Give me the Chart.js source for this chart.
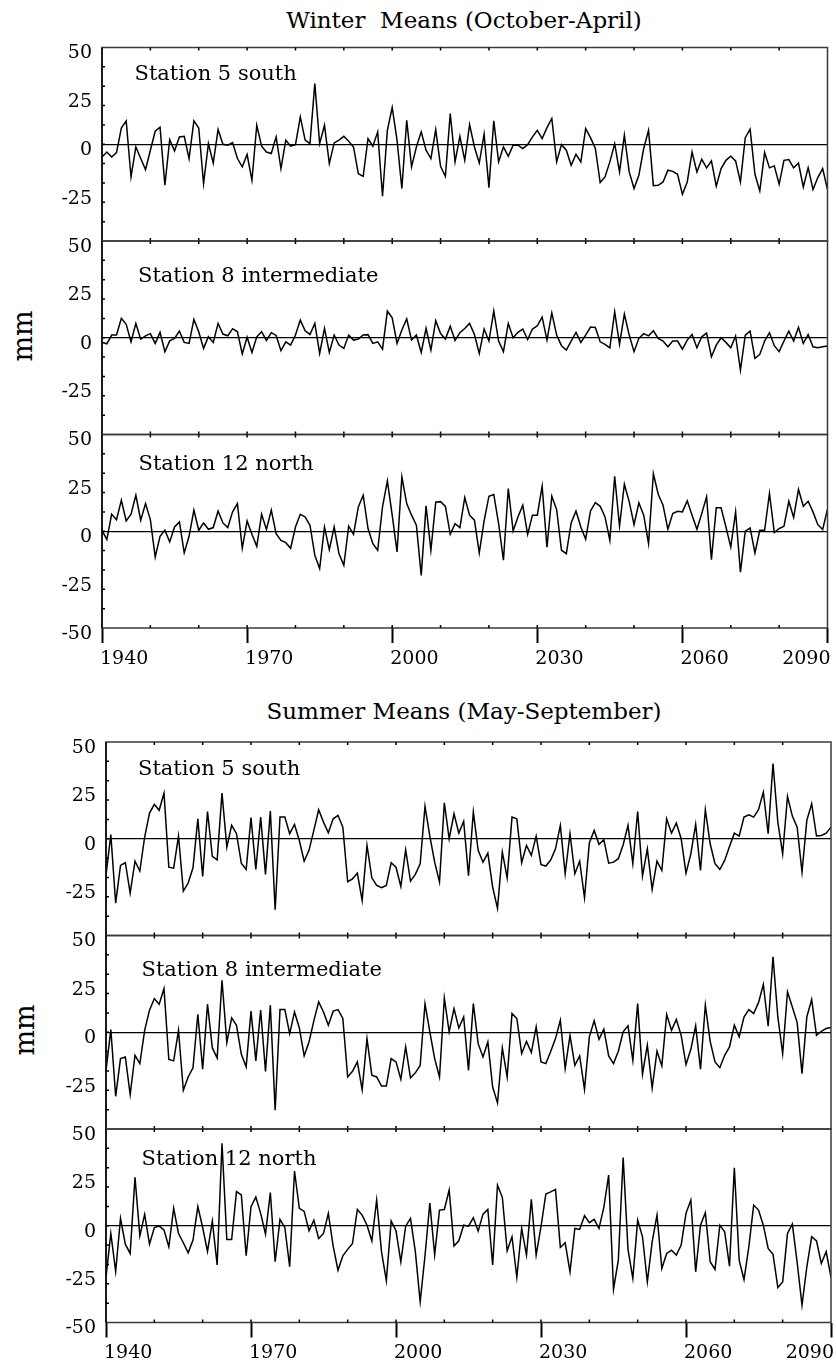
<!DOCTYPE html>
<html>
<head>
<meta charset="utf-8">
<script src="https://cdn.jsdelivr.net/npm/chart.js@4.4.1/dist/chart.umd.min.js"></script>
<style>
  body { margin: 0; background: #fff; }
  #page { position: relative; width: 836px; height: 1367px; font-family: "DejaVu Serif", serif; color: #000; overflow: hidden; }
  #page canvas { position: absolute; left: 0; }
  .title { position: absolute; left: 0; width: 928px; text-align: center; font-size: 23px; line-height: 23px; white-space: pre; }
  .unit { position: absolute; width: 80px; height: 34px; line-height: 34px; text-align: center; font-size: 27px; transform: rotate(-90deg); }
</style>
</head>
<body>
<div id="page">
  <div class="title" style="top:9px;">Winter  Means (October-April)</div>
  <div class="title" style="top:700px;">Summer Means (May-September)</div>
  <div class="unit" style="left:-17px; top:319px;">mm</div>
  <div class="unit" style="left:-15px; top:1013px;">mm</div>
</div>
<script>
var firstYear = 1940, lastYear = 2090;
var years = [];
for (var yr = firstYear; yr <= lastYear; yr++) years.push(yr);

var yTickValues = [-50, -25, 0, 25, 50];
var xTickLabels = [1940, 1970, 2000, 2030, 2060, 2090];

// winter means (October-April), mm
var winterStation5 = [
  -6.6, -4.0, -6.6, -4.3, 8.4, 12.1, -16.9, -1.4, -7.4, -13.1,
  -3.1, 6.7, 8.8, -21.2, 2.4, -3.4, 3.8, 4.1, -7.4, 12.1,
  8.4, -20.3, 0.3, -9.7, 7.6, 0, -0.5, 0.9, -7.4, -11.7,
  -5.3, -18.6, 9.8, -1.0, -4.0, -4.8, 3.8, -12.6, 2.1, -1.0,
  -0.2, 14.1, 2.1, 0.3, 31.4, 0.3, 9.8, -10.0, 0.7, 2.1,
  4.1, 1.6, -1.4, -15.2, -16.6, 2.9, -1.0, 6.4, -26.9, 7.2,
  19.0, 2.1, -22.9, 12.4, -11.7, -1.4, 6.4, -3.1, -7.4, 7.6,
  -11.4, -16.6, 15.9, -9.1, 4.1, -8.3, 10.2,
  -1.4, -9.7, 5.2, -22.4, 12.1, -9.1, -1.4, -6.2, -0.5, -0.5,
  -2.2, -0.2, 3.8, 7.2, 2.9, 8.6, 13.3, -9.1, -0.2, -3.1,
  -10.9, -5.2, -9.1, 8.1, 3.4, -2.2, -19.8, -16.9, -9.1, 0.3,
  -14.3, 4.7, -14.3, -22.9, -16.0, -2.2, 7.2, -21.4, -21.2, -19.5,
  -13.4, -14.0, -15.5, -25.9, -19.5, -4.0, -14.3, -7.8, -12.2, -8.6,
  -21.7, -12.6, -8.3, -6.2, -8.6, -19.5, 3.4, 7.8, -15.5, -24.1,
  -4.3, -12.2, -11.2, -20.7, -8.3, -7.9, -12.2, -9.7, -22.1, -12.1,
  -23.4, -17.2, -12.6, -23.4
];
var winterStation8 = [
  -2.4, -3.1, 1.4, 1.4, 10.0, 6.9, -2.1, 7.4, -0.7, 1.0,
  2.1, -2.9, 2.8, -7.2, -1.6, -0.3, 3.4, -2.4, -2.9, 9.5,
  3.1, -5.5, 0.5, -2.4, 7.4, 1.9, 1.0, 4.7, 3.1, -8.4,
  0.3, -7.6, 0.5, 3.1, -1.4, 2.6, 1.2, -6.7, -2.1, -3.8,
  1.4, 9.1, 3.6, 1.7, 7.4, -8.1, 4.8, -7.6, 1.4, -3.8,
  -5.5, 1.4, -1.2, -0.7, 1.4, 1.6, -2.9, -2.1, -5.9, 13.8,
  10.3, -2.9, 4.0, 9.7, -1.2, 1.4, -7.6, 4.8, -6.4, 8.8,
  2.2, -0.7, 6.0, -1.4, 2.6, 4.8, 7.4,
  1.7, -8.1, 4.5, -1.7, 13.8, -1.7, -7.2, 7.4, 0, 2.8,
  4.5, -0.9, 4.5, 6.2, 10.7, -1.2, 12.9, 1.4, -4.1, -6.4,
  -1.7, 2.8, -2.4, 1.4, 5.5, 5.3, -2.1, -3.4, -5.2, 13.4,
  -3.4, 12.2, 1.4, -7.2, -0.3, 2.1, 1.0, 3.6, -0.3, -1.7,
  -4.7, -1.7, -1.7, -5.9, -1.2, 1.7, -5.2, 0.5, 2.4, -9.8,
  -3.8, 0, -2.4, -5.2, 0.9, -16.7, 1.4, 3.4, -10.7, -8.6,
  -1.7, 2.6, -4.1, -7.2, -1.7, 3.4, -1.7, 5.3, -2.9, 1.7,
  -4.7, -5.2, -4.7, -4.3
];
var winterStation12 = [
  0.5, -4.3, 8.8, 6.0, 16.0, 5.3, 8.8, 18.6, 5.7, 14.3,
  6.0, -13.3, -2.6, 0.5, -5.5, 2.2, 4.8, -11.2, -2.6, 10.9,
  0.5, 4.3, 1.0, 1.9, 10.5, 4.3, 1.9, 10.0, 14.3, -8.8,
  5.3, -1.6, -7.8, 8.8, 0.9, 10.9, -1.2, -4.7, -5.9, -8.8,
  2.2, 8.8, 7.4, 3.1, -12.4, -19.3, 2.2, -9.5, 2.2, -11.6,
  -17.6, 2.6, -1.6, 12.6, 18.6, 1.4, -6.4, -9.8, 12.6, 26.0,
  8.3, -10.7, 28.1, 14.3, 8.3, 3.1, -22.8, 13.1, -9.8, 15.0,
  15.3, 12.8, -1.6, 3.9, 1.9, 17.4, 8.3,
  5.7, -11.2, 5.3, 18.1, 19.0, 3.9, -15.0, 22.1, 0.2, 7.4,
  13.4, -1.6, 8.3, 8.3, 23.3, -8.3, 18.1, 11.2, -9.8, -11.6,
  4.3, 10.5, 2.2, -4.1, 10.5, 14.8, 12.9, 7.4, -4.7, 28.4,
  2.6, 24.3, 15.3, 3.4, 14.7, 8.3, -6.4, 29.7, 19.1, 13.4,
  1.0, 9.1, 10.3, 10.0, 15.7, 8.3, 1.0, 9.1, 17.8, -14.7,
  12.1, 12.1, 2.2, -8.1, 10.0, -21.2, 0, 1.7, -11.2, 0.5,
  0.5, 19.5, -0.7, 1.4, 2.6, 15.5, 7.1, 21.6, 12.9, 15.5,
  10.0, 3.4, 0.9, 11.4
];

// summer means (May-September), mm
var summerStation5 = [
  -19.0, 2.2, -33.3, -13.8, -12.4, -28.1, -11.6, -16.7, 0.9, 13.3,
  17.8, 14.7, 23.6, -14.7, -15.2, 1.4, -27.1, -22.9, -15.0, 10.3,
  -19.5, 14.1, -9.1, -10.9, 23.6, -4.3, 6.9, 2.6, -12.6, -15.9,
  10.9, -15.9, 11.2, -18.4, 14.3, -36.7, 11.2, 11.2, 2.6, 7.4,
  -0.9, -11.6, -6.0, 4.3, 15.0, 8.6, 3.1, 10.3, 12.1, 6.0,
  -22.2, -20.7, -17.8, -31.9, -3.4, -20.2, -24.1, -25.3, -24.1, -12.4,
  -14.7, -24.7, -5.7, -21.9, -18.4, -12.9, 16.7, 1.4, -12.1, -22.4,
  18.6, 0,
  12.9, 2.9, 9.0, -19.1, 13.8, -6.0, -12.1, -7.4, -25.0, -36.0,
  -6.9, -20.2, 11.2, 10.3, -12.4, -3.4, -8.6, 1.4, -13.4, -14.1,
  -11.0,
  -5.2, 6.9, -18.1, 2.6, -18.1, -11.6, -30.5, -2.2, 4.3, -2.9,
  -0.5, -12.6, -12.1, -10.3, -3.1, 6.9, -12.9, 14.1, -19.3, -5.2,
  -26.2, -11.6, -16.4, 10.3, 2.9, 8.1, 0, -17.8, -7.8, 7.4,
  -16.4, 15.0, -2.6, -12.9, -15.9, -11.2, -4.0, 2.9, 1.4, 11.2,
  12.4, 11.2, 15.0, 24.1, 2.6, 38.8, 8.6, -7.8, 21.9, 11.7,
  6.0, -17.2, 9.5, 18.1, 1.4, 1.7, 2.9, 6.0
];
var summerStation8 = [
  -19.8, 1.4, -33.1, -13.6, -12.8, -32.2, -11.9, -16.2, 1.0, 11.4,
  17.4, 14.5, 22.6, -14.1, -14.8, 1.0, -30.0, -23.1, -18.4, 9.3,
  -19.1, 14.5, -8.1, -13.3, 26.9, -5.3, 7.4, 3.6, -11.4, -17.9,
  10.9, -14.8, 11.4, -20.3, 14.0, -40.3, 11.7, 11.7, -0.7, 10.5,
  2.2, -12.2, -5.0, 5.9, 15.7, 10.5, 3.6, 10.9, 11.7, 7.1,
  -23.1, -20.2, -15.3, -29.8, -3.3, -22.2, -23.1, -27.8, -27.8, -13.6,
  -15.3, -24.3, -7.6, -23.6, -21.0, -17.2, 14.7, 0.2, -13.6, -23.1,
  17.6, 0.2,
  12.2, 2.2, 7.9, -19.7, 14.8, -5.9, -12.8, -5.0, -28.3, -36.5,
  -8.1, -23.1, 9.7, 7.1, -11.0, -4.7, -10.5, 2.8, -15.3, -16.2,
  -10.0,
  -3.3, 6.2, -18.8, -1.6, -17.1, -12.2, -29.5, -2.4, 5.9, -3.6,
  1.6, -12.2, -16.2, -9.8, 0.2, 3.3, -14.5, 14.8, -21.7, -6.7,
  -28.8, -9.8, -17.4, 9.1, 1.0, 6.6, -1.6, -16.7, -8.8, 3.3,
  -19.1, 14.0, -4.7, -15.3, -18.3, -11.9, -7.6, 3.6, -2.4, 7.9,
  11.7, 9.7, 15.3, 24.7, 3.1, 39.0, 7.9, -11.0, 20.9, 13.1,
  5.0, -21.4, 7.9, 16.9, -1.6, 0.5, 1.9, 2.4
];
var summerStation12 = [
  -26.4, -4.0, -23.6, 3.8, -9.5, -14.3, 25.0, -5.2, 5.9, -9.5,
  -0.9, -0.2, -2.2, -10.9, 9.0, -4.0, -8.8, -14.0, -7.4, 9.9,
  -0.9, -13.3, 2.4, -20.3, 42.6, -7.1, -7.1, 17.6, 15.9, -15.5,
  9.8, 14.8, 6.4, -4.3, 17.1, -18.6, 3.3, -0.9, -21.2, 28.3,
  9.0, 7.4, -2.6, 2.9, -6.6, -4.0, 6.4, -10.5, -23.0, -15.5,
  -12.2, -9.1, 8.4, 5.5, 0.3, -7.8, 13.3, -13.4, -28.4, 2.4,
  -2.6, -18.6, -0.2, 3.8, -13.4, -39.3, -15.5, 11.7, -15.0, 8.1,
  8.4, 18.4,
  -10.5, -7.8, 0.3, -0.2, 4.1, -2.8, 6.0, 8.4, -20.3, 21.0,
  14.7, -12.9, -5.7, -26.7, -1.4, -15.2, 13.6, -15.2, -0.5, 16.4,
  17.5,
  18.8, -11.2, -8.8, -23.8, -1.4, -1.9, 5.2, 1.6, 3.3, -1.4,
  9.5, 26.2, -32.8, -17.8, 35.3, -12.2, -27.2, 2.9, -5.7, -29.0,
  -8.3, 5.5, -22.1, -14.3, -12.6, -15.2, -10.0, 6.4, 13.3, -23.8,
  0.3, 6.7, -18.6, -22.6, 0.3, -3.1, -20.9, 30.0, -17.8, -27.8,
  -10.9, 10.7, 8.1, 0.3, -11.7, -14.7, -31.9, -29.0, -4.0, 0.9,
  -19.0, -41.0, -21.2, -5.7, -7.8, -19.5, -13.4, -26.7
];

Chart.defaults.font.family = '"DejaVu Serif", serif';
Chart.defaults.color = '#000';

var panelHeight = 193.5;

var panels = [
  { values: winterStation5,  label: 'Station 5 south',        top: 47.5,  left: 102, right: 827.5, dx: 32.5, dy: 27.5, bottom: false },
  { values: winterStation8,  label: 'Station 8 intermediate', top: 241,   left: 102, right: 827.5, dx: 36,   dy: 36,   bottom: false },
  { values: winterStation12, label: 'Station 12 north',       top: 434.5, left: 102, right: 827.5, dx: 36.5, dy: 30,   bottom: true },
  { values: summerStation5,  label: 'Station 5 south',        top: 742,   left: 106, right: 831,   dx: 32,   dy: 27.5, bottom: false },
  { values: summerStation8,  label: 'Station 8 intermediate', top: 935.5, left: 106, right: 831,   dx: 35.5, dy: 35,   bottom: false },
  { values: summerStation12, label: 'Station 12 north',       top: 1129,  left: 106, right: 831,   dx: 35.5, dy: 31,   bottom: true }
];

// frame, inward minor ticks, station name and year labels
var panelDecor = {
  id: 'panelDecor',
  beforeDatasetsDraw: function(chart, args, o) {
    var a = chart.chartArea, ctx = chart.ctx;
    ctx.save();
    ctx.font = '21px "DejaVu Serif"';
    ctx.fillStyle = '#000';
    ctx.textBaseline = 'middle';
    ctx.textAlign = 'left';
    ctx.fillText(o.label, a.left + o.dx, a.top + o.dy);
    ctx.restore();
  },
  afterDraw: function(chart, args, o) {
    var a = chart.chartArea, ctx = chart.ctx;
    var xs = chart.scales.x, ys = chart.scales.y;
    ctx.save();
    ctx.strokeStyle = '#3a3a3a';
    ctx.lineWidth = 1.5;
    ctx.strokeRect(a.left, a.top, a.right - a.left, a.bottom - a.top);

    ctx.strokeStyle = '#000';
    ctx.beginPath();
    for (var yr = firstYear + 10; yr < lastYear; yr += 10) {
      var px = xs.getPixelForValue(yr);
      ctx.moveTo(px, a.top);
      ctx.lineTo(px, a.top + 3);
      ctx.moveTo(px, a.bottom);
      ctx.lineTo(px, a.bottom - 3);
    }
    for (var v = -40; v <= 40; v += 10) {
      var py = ys.getPixelForValue(v);
      ctx.moveTo(a.left, py);
      ctx.lineTo(a.left + 3, py);
    }
    ctx.stroke();

    ctx.beginPath();
    ctx.moveTo(a.left, a.top);
    ctx.lineTo(a.left, a.bottom);
    ctx.stroke();

    if (o.bottom) {
      ctx.font = '19px "DejaVu Serif"';
      ctx.fillStyle = '#000';
      ctx.textBaseline = 'middle';
      xTickLabels.forEach(function(y, i) {
        var px = xs.getPixelForValue(y);
        if (i === xTickLabels.length - 1) {
          ctx.textAlign = 'right';
          ctx.fillText(String(y), px + 3, a.bottom + 31);
        } else {
          ctx.textAlign = 'left';
          ctx.fillText(String(y), px - 2, a.bottom + 31);
        }
      });
    }
    ctx.restore();
  }
};

function makePanel(p) {
  var canvasTop = Math.floor(p.top) - 14;
  var padTop = p.top - canvasTop;
  var tickLen = p.bottom ? 15 : 0;
  var h = Math.ceil(padTop + panelHeight + tickLen + (p.bottom ? 45 : 14));
  var padBottom = h - padTop - panelHeight - tickLen;

  var canvas = document.createElement('canvas');
  canvas.width = 836;
  canvas.height = h;
  canvas.style.top = canvasTop + 'px';
  document.getElementById('page').appendChild(canvas);

  new Chart(canvas.getContext('2d'), {
    type: 'line',
    data: {
      datasets: [{
        data: years.map(function(y, i) { return { x: y, y: p.values[i] }; }),
        borderColor: '#000',
        borderWidth: 1.5,
        pointRadius: 0,
        tension: 0,
        fill: false
      }]
    },
    options: {
      responsive: false,
      animation: false,
      events: [],
      layout: { padding: { top: padTop, bottom: padBottom, left: 0, right: 836 - p.right } },
      plugins: {
        legend: { display: false },
        tooltip: { enabled: false },
        panelDecor: p
      },
      scales: {
        x: {
          type: 'linear',
          min: firstYear,
          max: lastYear,
          afterFit: function(s) { s.height = tickLen; s.paddingLeft = 0; s.paddingRight = 0; },
          ticks: { display: false, stepSize: 10 },
          border: { display: false },
          grid: {
            display: p.bottom,
            drawOnChartArea: false,
            drawTicks: true,
            tickLength: 15,
            tickWidth: 2,
            tickColor: function(ctx) {
              return ctx.tick && (ctx.tick.value - firstYear) % 30 === 0 ? '#000' : 'rgba(0,0,0,0)';
            }
          }
        },
        y: {
          min: -50,
          max: 50,
          afterBuildTicks: function(s) {
            s.ticks = yTickValues.map(function(v) { return { value: v }; });
          },
          afterFit: function(s) { s.width = p.left; s.paddingTop = 0; s.paddingBottom = 0; },
          border: { display: false },
          ticks: {
            padding: 10,
            labelOffset: 6,
            color: '#000',
            font: { size: 19 },
            callback: function(v) {
              return (v === -50 && !p.bottom) ? '' : String(v);
            }
          },
          grid: {
            drawTicks: false,
            lineWidth: 1.2,
            color: function(ctx) {
              return ctx.tick && ctx.tick.value === 0 ? '#000' : 'rgba(0,0,0,0)';
            }
          }
        }
      }
    },
    plugins: [panelDecor]
  });
}

panels.forEach(makePanel);
</script>
</body>
</html>
